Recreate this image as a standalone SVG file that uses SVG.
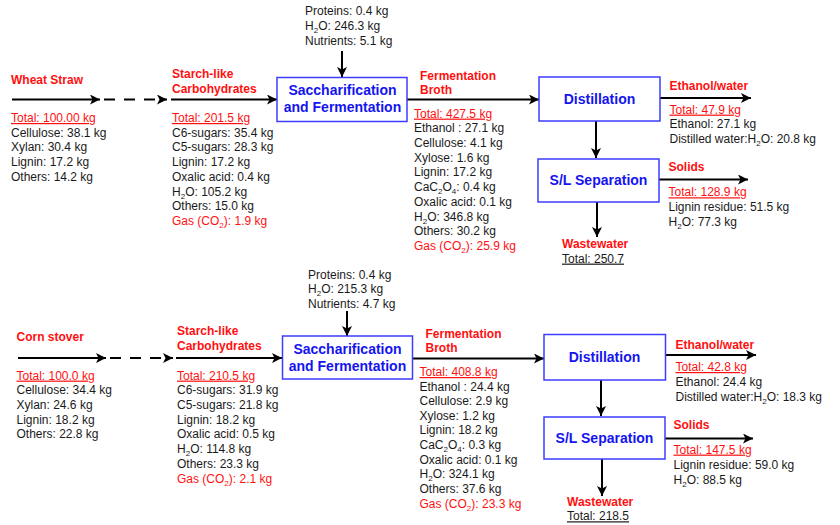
<svg xmlns="http://www.w3.org/2000/svg" width="840" height="525" viewBox="0 0 840 525">
<defs>
<style>
text{font-family:"Liberation Sans",Arial,sans-serif;font-size:12px;fill:#1a1a1a}
.lbl{font-weight:bold;fill:#ff1010}
.red{fill:#ff1010}
.u{text-decoration:underline}
.bx{fill:#fff;stroke:#3d3dff;stroke-width:1.5}
.bt{font-weight:bold;font-size:14px;fill:#1414f0;text-anchor:middle}
.ln{stroke:#000;stroke-width:2;fill:none;marker-end:url(#ah)}
.dash{stroke-dasharray:11 9}
</style>
<marker id="ah" markerUnits="userSpaceOnUse" markerWidth="11" markerHeight="11" refX="10" refY="5" orient="auto">
<path d="M0,0 L10,5 L0,10 L2.5,5 z" fill="#000"/>
</marker>
</defs>
<rect width="840" height="525" fill="#fff"/>

<g id="connectors">
<!-- top -->
<line class="ln" x1="12" y1="99.5" x2="100" y2="99.5"/>
<line class="ln dash" x1="104" y1="99.5" x2="167" y2="99.5"/>
<line class="ln" x1="171" y1="99.5" x2="277" y2="99.5"/>
<line class="ln" x1="342" y1="51" x2="342" y2="77"/>
<line class="ln" x1="407" y1="99.5" x2="539" y2="99.5"/>
<line class="ln" x1="660" y1="98" x2="751" y2="98"/>
<line class="ln" x1="596" y1="121" x2="596" y2="158"/>
<line class="ln" x1="659" y1="179.5" x2="748" y2="179.5"/>
<line class="ln" x1="597" y1="202" x2="597" y2="237"/>
<!-- bottom -->
<line class="ln" x1="18" y1="358" x2="106" y2="358"/>
<line class="ln dash" x1="110" y1="358" x2="173" y2="358"/>
<line class="ln" x1="176" y1="358" x2="282" y2="358"/>
<line class="ln" x1="347" y1="311" x2="347" y2="336"/>
<line class="ln" x1="412" y1="358.5" x2="544" y2="358.5"/>
<line class="ln" x1="666" y1="355" x2="756" y2="355"/>
<line class="ln" x1="601" y1="380" x2="601" y2="416"/>
<line class="ln" x1="665" y1="438.5" x2="753" y2="438.5"/>
<line class="ln" x1="602" y1="459" x2="602" y2="496"/>
</g>

<!-- TOP: Wheat straw -->
<g id="wheat-straw">
<text class="lbl" x="11" y="84">Wheat Straw</text>
<text class="red u" x="11" y="122">Total: 100.00 kg</text>
<text x="11" y="136.7">Cellulose: 38.1 kg</text>
<text x="11" y="151.4">Xylan: 30.4 kg</text>
<text x="11" y="166.1">Lignin: 17.2 kg</text>
<text x="11" y="180.8">Others: 14.2 kg</text>
</g>

<g id="starch-top">
<text class="lbl" x="172" y="78">Starch-like</text>
<text class="lbl" x="172" y="92.5">Carbohydrates</text>
<text class="red u" x="172" y="122">Total: 201.5 kg</text>
<text x="172" y="136.7">C6-sugars: 35.4 kg</text>
<text x="172" y="151.4">C5-sugars: 28.3 kg</text>
<text x="172" y="166.1">Lignin: 17.2 kg</text>
<text x="172" y="180.8">Oxalic acid: 0.4 kg</text>
<text x="172" y="195.5">H<tspan font-size="8" dy="3">2</tspan><tspan dy="-3">O: 105.2 kg</tspan></text>
<text x="172" y="210.2">Others: 15.0 kg</text>
<text class="red" x="172" y="224.9">Gas (CO<tspan font-size="8" dy="3">2</tspan><tspan dy="-3">): 1.9 kg</tspan></text>
</g>

<g id="inputs-top">
<text x="305" y="15">Proteins: 0.4 kg</text>
<text x="305" y="30">H<tspan font-size="8" dy="3">2</tspan><tspan dy="-3">O: 246.3 kg</tspan></text>
<text x="305" y="44.7">Nutrients: 5.1 kg</text>
</g>

<g id="ssf-top">
<rect class="bx" x="277" y="77.5" width="130" height="44"/>
<text class="bt" x="342.5" y="95">Saccharification</text>
<text class="bt" x="342.5" y="112">and Fermentation</text>
</g>

<g id="broth-top">
<text class="lbl" x="420" y="79.5">Fermentation</text>
<text class="lbl" x="420" y="94">Broth</text>
<text class="red u" x="414" y="117.6">Total: 427.5 kg</text>
<text x="414" y="132.3">Ethanol : 27.1 kg</text>
<text x="414" y="147">Cellulose: 4.1 kg</text>
<text x="414" y="161.7">Xylose: 1.6 kg</text>
<text x="414" y="176.4">Lignin: 17.2 kg</text>
<text x="414" y="191.1">CaC<tspan font-size="8" dy="3">2</tspan><tspan dy="-3">O</tspan><tspan font-size="8" dy="3">4</tspan><tspan dy="-3">: 0.4 kg</tspan></text>
<text x="414" y="205.8">Oxalic acid: 0.1 kg</text>
<text x="414" y="220.5">H<tspan font-size="8" dy="3">2</tspan><tspan dy="-3">O: 346.8 kg</tspan></text>
<text x="414" y="235.2">Others: 30.2 kg</text>
<text class="red" x="414" y="249.9">Gas (CO<tspan font-size="8" dy="3">2</tspan><tspan dy="-3">): 25.9 kg</tspan></text>
</g>

<g id="distillation-top">
<rect class="bx" x="539" y="77" width="121" height="44"/>
<text class="bt" x="599.5" y="104.3">Distillation</text>
</g>

<g id="ethanol-top">
<text class="lbl" x="669.5" y="90.3">Ethanol/water</text>
<text class="red u" x="669.5" y="113.6">Total: 47.9 kg</text>
<text x="669.5" y="128">Ethanol: 27.1 kg</text>
<text x="669.5" y="142.6">Distilled water:H<tspan font-size="8" dy="3">2</tspan><tspan dy="-3">O: 20.8 kg</tspan></text>
</g>

<g id="sl-top">
<rect class="bx" x="538" y="159" width="121" height="43"/>
<text class="bt" x="598.5" y="185">S/L Separation</text>
</g>

<g id="solids-top">
<text class="lbl" x="668.5" y="171">Solids</text>
<text class="red u" x="668.5" y="196.3">Total: 128.9 kg</text>
<text x="668.5" y="211">Lignin residue: 51.5 kg</text>
<text x="668.5" y="225.5">H<tspan font-size="8" dy="3">2</tspan><tspan dy="-3">O: 77.3 kg</tspan></text>
</g>

<g id="wastewater-top">
<text class="lbl" x="562" y="247.7">Wastewater</text>
<text class="u" x="562" y="262.6">Total: 250.7</text>
</g>

<!-- BOTTOM: Corn stover -->
<g id="corn-stover">
<text class="lbl" x="16.5" y="341.3">Corn stover</text>
<text class="red u" x="16.5" y="379.6">Total: 100.0 kg</text>
<text x="16.5" y="394.3">Cellulose: 34.4 kg</text>
<text x="16.5" y="409">Xylan: 24.6 kg</text>
<text x="16.5" y="423.7">Lignin: 18.2 kg</text>
<text x="16.5" y="438.4">Others: 22.8 kg</text>
</g>

<g id="starch-bottom">
<text class="lbl" x="177" y="335.3">Starch-like</text>
<text class="lbl" x="177" y="350.3">Carbohydrates</text>
<text class="red u" x="177" y="379.6">Total: 210.5 kg</text>
<text x="177" y="394.3">C6-sugars: 31.9 kg</text>
<text x="177" y="409">C5-sugars: 21.8 kg</text>
<text x="177" y="423.7">Lignin: 18.2 kg</text>
<text x="177" y="438.4">Oxalic acid: 0.5 kg</text>
<text x="177" y="453.1">H<tspan font-size="8" dy="3">2</tspan><tspan dy="-3">O: 114.8 kg</tspan></text>
<text x="177" y="467.8">Others: 23.3 kg</text>
<text class="red" x="177" y="482.5">Gas (CO<tspan font-size="8" dy="3">2</tspan><tspan dy="-3">): 2.1 kg</tspan></text>
</g>

<g id="inputs-bottom">
<text x="308" y="278.6">Proteins: 0.4 kg</text>
<text x="308" y="293">H<tspan font-size="8" dy="3">2</tspan><tspan dy="-3">O: 215.3 kg</tspan></text>
<text x="308" y="307.6">Nutrients: 4.7 kg</text>
</g>

<g id="ssf-bottom">
<rect class="bx" x="282.5" y="336" width="130" height="43"/>
<text class="bt" x="347.5" y="354">Saccharification</text>
<text class="bt" x="347.5" y="370.7">and Fermentation</text>
</g>

<g id="broth-bottom">
<text class="lbl" x="425.5" y="337.6">Fermentation</text>
<text class="lbl" x="425.5" y="352">Broth</text>
<text class="red u" x="419.5" y="376">Total: 408.8 kg</text>
<text x="419.5" y="390.6">Ethanol : 24.4 kg</text>
<text x="419.5" y="405.2">Cellulose: 2.9 kg</text>
<text x="419.5" y="419.8">Xylose: 1.2 kg</text>
<text x="419.5" y="434.4">Lignin: 18.2 kg</text>
<text x="419.5" y="449">CaC<tspan font-size="8" dy="3">2</tspan><tspan dy="-3">O</tspan><tspan font-size="8" dy="3">4</tspan><tspan dy="-3">: 0.3 kg</tspan></text>
<text x="419.5" y="463.6">Oxalic acid: 0.1 kg</text>
<text x="419.5" y="478.2">H<tspan font-size="8" dy="3">2</tspan><tspan dy="-3">O: 324.1 kg</tspan></text>
<text x="419.5" y="492.8">Others: 37.6 kg</text>
<text class="red" x="419.5" y="507.5">Gas (CO<tspan font-size="8" dy="3">2</tspan><tspan dy="-3">): 23.3 kg</tspan></text>
</g>

<g id="distillation-bottom">
<rect class="bx" x="544" y="334.5" width="121.5" height="45.5"/>
<text class="bt" x="604.5" y="362.3">Distillation</text>
</g>

<g id="ethanol-bottom">
<text class="lbl" x="675.5" y="348.6">Ethanol/water</text>
<text class="red u" x="675.5" y="371">Total: 42.8 kg</text>
<text x="675.5" y="386">Ethanol: 24.4 kg</text>
<text x="675.5" y="401">Distilled water:H<tspan font-size="8" dy="3">2</tspan><tspan dy="-3">O: 18.3 kg</tspan></text>
</g>

<g id="sl-bottom">
<rect class="bx" x="544" y="417" width="121" height="42"/>
<text class="bt" x="604.5" y="443.3">S/L Separation</text>
</g>

<g id="solids-bottom">
<text class="lbl" x="673.5" y="428.6">Solids</text>
<text class="red u" x="673.5" y="453.6">Total: 147.5 kg</text>
<text x="673.5" y="469.3">Lignin residue: 59.0 kg</text>
<text x="673.5" y="484">H<tspan font-size="8" dy="3">2</tspan><tspan dy="-3">O: 88.5 kg</tspan></text>
</g>

<g id="wastewater-bottom">
<text class="lbl" x="567" y="506">Wastewater</text>
<text class="u" x="567" y="520.3">Total: 218.5</text>
</g>
</svg>
